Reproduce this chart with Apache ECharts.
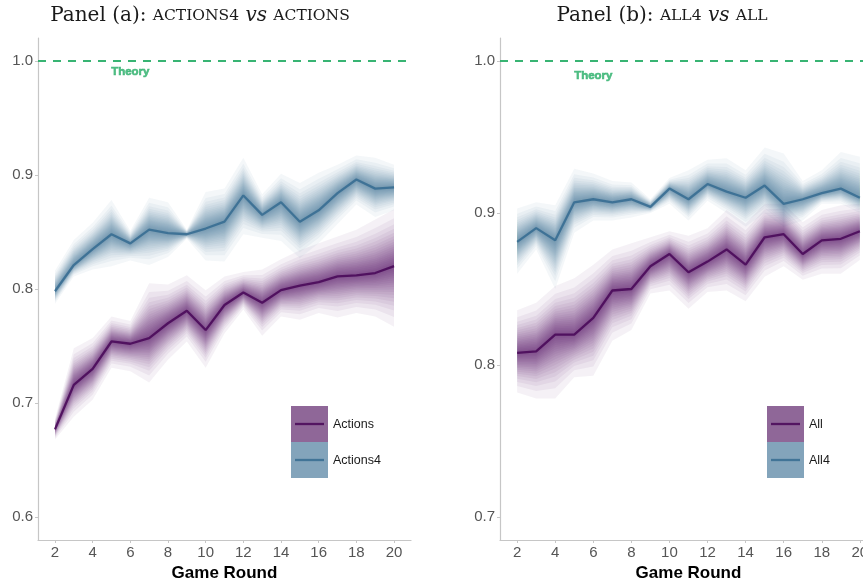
<!DOCTYPE html>
<html>
<head>
<meta charset="utf-8">
<script src="https://cdn.jsdelivr.net/npm/echarts@6/dist/echarts.min.js"></script>
<style>
  html, body { margin: 0; padding: 0; background: #ffffff; }
  #chart { width: 863px; height: 583px; }
</style>
</head>
<body>
<div id="chart"></div>
<script>
// Game rounds on the x axis
const rounds = [2, 3, 4, 5, 6, 7, 8, 9, 10, 11, 12, 13, 14, 15, 16, 17, 18, 19, 20];

// Panel (a): Actions (mean with outer fan bounds)
const actionsMean = [0.677, 0.716, 0.730, 0.754, 0.752, 0.757, 0.770, 0.781, 0.764, 0.786, 0.797, 0.788, 0.799, 0.803, 0.806, 0.811, 0.812, 0.814, 0.820];
const actionsLow  = [0.668, 0.688, 0.703, 0.731, 0.728, 0.718, 0.738, 0.754, 0.731, 0.761, 0.782, 0.759, 0.776, 0.773, 0.779, 0.775, 0.779, 0.776, 0.767];
const actionsHigh = [0.686, 0.748, 0.757, 0.776, 0.772, 0.805, 0.804, 0.812, 0.799, 0.811, 0.815, 0.817, 0.826, 0.834, 0.840, 0.846, 0.852, 0.861, 0.870];

// Panel (a): Actions4
const actions4Mean = [0.798, 0.821, 0.835, 0.848, 0.840, 0.852, 0.849, 0.848, 0.853, 0.859, 0.882, 0.865, 0.876, 0.859, 0.869, 0.884, 0.896, 0.888, 0.889];
const actions4Low  = [0.787, 0.811, 0.817, 0.820, 0.825, 0.821, 0.828, 0.844, 0.825, 0.824, 0.848, 0.845, 0.842, 0.827, 0.840, 0.857, 0.874, 0.863, 0.869];
const actions4High = [0.816, 0.843, 0.858, 0.878, 0.851, 0.880, 0.876, 0.852, 0.885, 0.888, 0.915, 0.883, 0.901, 0.893, 0.902, 0.909, 0.917, 0.915, 0.909];

// Panel (b): All
const allMean = [0.808, 0.809, 0.820, 0.820, 0.831, 0.849, 0.850, 0.865, 0.873, 0.861, 0.868, 0.876, 0.866, 0.884, 0.886, 0.873, 0.882, 0.883, 0.888];
const allLow  = [0.782, 0.778, 0.778, 0.792, 0.793, 0.816, 0.823, 0.847, 0.849, 0.837, 0.848, 0.849, 0.842, 0.858, 0.865, 0.856, 0.860, 0.860, 0.869];
const allHigh = [0.836, 0.841, 0.852, 0.857, 0.866, 0.876, 0.880, 0.884, 0.888, 0.885, 0.890, 0.902, 0.893, 0.906, 0.906, 0.894, 0.902, 0.905, 0.906];

// Panel (b): All4
const all4Mean = [0.881, 0.890, 0.882, 0.907, 0.909, 0.907, 0.909, 0.904, 0.916, 0.909, 0.919, 0.914, 0.910, 0.918, 0.906, 0.909, 0.913, 0.916, 0.910];
const all4Low  = [0.860, 0.876, 0.850, 0.887, 0.895, 0.895, 0.897, 0.900, 0.906, 0.895, 0.908, 0.900, 0.891, 0.900, 0.891, 0.895, 0.906, 0.906, 0.900];
const all4High = [0.903, 0.907, 0.905, 0.929, 0.926, 0.921, 0.920, 0.909, 0.923, 0.928, 0.935, 0.936, 0.928, 0.943, 0.939, 0.921, 0.928, 0.940, 0.937];

// Tick labels
const xTicks = [2, 4, 6, 8, 10, 12, 14, 16, 18, 20];
const yTicksA = [0.6, 0.7, 0.8, 0.9, 1.0];
const yTicksB = [0.7, 0.8, 0.9, 1.0];

// Reference value and its label
const theoryValue = 1.0;
const theoryLabel = { x: 6, y: 0.99, text: 'Theory' };

// Colours and fan styling
const PURPLE = '#440154';
const BLUE = '#31688e';
const GREEN = '#2db06c';
const AXIS_GREY = '#c6c6c6';
const LABEL_GREY = '#555555';
const SANS = '"Liberation Sans", Arial, sans-serif';
const SERIF = '"DejaVu Serif", "Liberation Serif", serif';
// Relative widths of the nested fan layers (inner to outer), normal-quantile spacing
const FAN_STEPS = [0.032, 0.064, 0.096, 0.129, 0.163, 0.197, 0.232, 0.268, 0.305, 0.344,
                   0.385, 0.429, 0.477, 0.529, 0.587, 0.654, 0.734, 0.839, 1.0];
const FAN_ALPHA = 0.055;

function rgba(hex, a) {
  const n = parseInt(hex.slice(1), 16);
  return 'rgba(' + ((n >> 16) & 255) + ',' + ((n >> 8) & 255) + ',' + (n & 255) + ',' + a + ')';
}

// Nested translucent bands around the mean line
function fanSeries(idx, mean, low, high, color) {
  return {
    type: 'custom',
    xAxisIndex: idx,
    yAxisIndex: idx,
    silent: true,
    clip: true,
    z: 1,
    data: [[rounds[0], mean[0]]],
    renderItem: function (params, api) {
      const children = FAN_STEPS.map(function (f) {
        const upper = rounds.map(function (r, i) { return api.coord([r, mean[i] + f * (high[i] - mean[i])]); });
        const lower = rounds.map(function (r, i) { return api.coord([r, mean[i] - f * (mean[i] - low[i])]); }).reverse();
        return {
          type: 'polygon',
          shape: { points: upper.concat(lower) },
          style: { fill: rgba(color, FAN_ALPHA) }
        };
      });
      return { type: 'group', children: children };
    }
  };
}

function meanLine(idx, name, mean, color) {
  return {
    type: 'line',
    name: name,
    xAxisIndex: idx,
    yAxisIndex: idx,
    data: rounds.map(function (r, i) { return [r, mean[i]]; }),
    symbol: 'none',
    z: 3,
    lineStyle: { color: color, width: 2.3, opacity: 0.8 }
  };
}

function theorySeries(idx) {
  return {
    type: 'scatter',
    xAxisIndex: idx,
    yAxisIndex: idx,
    data: [[theoryLabel.x, theoryLabel.y]],
    symbolSize: 0,
    silent: true,
    z: 4,
    label: {
      show: true,
      position: 'inside',
      formatter: theoryLabel.text,
      color: GREEN,
      fontFamily: SANS,
      fontWeight: 'bold',
      fontSize: 11.5,
      textBorderColor: GREEN,
      textBorderWidth: 0.6
    },
    markLine: {
      silent: true,
      symbol: 'none',
      label: { show: false },
      lineStyle: { color: GREEN, width: 1.8, type: [8, 7], opacity: 0.95 },
      data: [{ yAxis: theoryValue }]
    }
  };
}

function xAxisFor(idx) {
  return {
    type: 'value',
    gridIndex: idx,
    min: 1.1,
    max: 20.9,
    axisLine: { show: true, lineStyle: { color: AXIS_GREY, width: 1.2 } },
    axisTick: { show: true, customValues: xTicks, length: 3, lineStyle: { color: AXIS_GREY } },
    axisLabel: { customValues: xTicks, color: LABEL_GREY, fontSize: 15, fontFamily: SANS, margin: 5 },
    splitLine: { show: false },
    name: 'Game Round',
    nameLocation: 'middle',
    nameGap: 24,
    nameTextStyle: { color: '#000', fontWeight: 'bold', fontSize: 17, fontFamily: SANS, verticalAlign: 'top' }
  };
}

function yAxisFor(idx, min, max, ticks) {
  return {
    type: 'value',
    gridIndex: idx,
    min: min,
    max: max,
    axisLine: { show: true, lineStyle: { color: AXIS_GREY, width: 1.2 } },
    axisTick: { show: true, customValues: ticks, length: 3, lineStyle: { color: AXIS_GREY } },
    axisLabel: {
      customValues: ticks, color: LABEL_GREY, fontSize: 15, fontFamily: SANS, margin: 5,
      formatter: function (v) { return v.toFixed(1); }
    },
    splitLine: { show: false }
  };
}

function legendBlock(x, y, items) {
  const out = [];
  items.forEach(function (it, k) {
    const top = y + k * 36;
    out.push({ type: 'rect', shape: { x: x, y: top, width: 37, height: 36 }, style: { fill: rgba(it.color, 0.6) }, silent: true });
    out.push({ type: 'line', shape: { x1: x + 4, y1: top + 18, x2: x + 33, y2: top + 18 }, style: { stroke: it.color, lineWidth: 2.3, opacity: 0.8 }, silent: true });
    out.push({ type: 'text', x: x + 42, y: top + 19, style: { text: it.label, fill: '#1a1a1a', font: '12.5px ' + SANS, verticalAlign: 'middle', align: 'left' }, silent: true });
  });
  return out;
}

function panelTitle(cx, tag, a, b) {
  return {
    type: 'text',
    x: cx,
    y: 6,
    silent: true,
    style: {
      text: '{m|Panel (' + tag + '): }{s|' + a + '}{m| }{i|vs}{m| }{s|' + b + '}',
      align: 'center',
      verticalAlign: 'top',
      rich: {
        m: { fontFamily: SERIF, fontSize: 20, fill: '#1a1a1a' },
        s: { fontFamily: SERIF, fontSize: 15.5, fill: '#1a1a1a' },
        i: { fontFamily: SERIF, fontSize: 20, fontStyle: 'italic', fill: '#1a1a1a' }
      }
    }
  };
}

const chart = echarts.init(document.getElementById('chart'), null, { renderer: 'canvas' });

chart.setOption({
  animation: false,
  backgroundColor: '#ffffff',
  grid: [
    { left: 38, top: 38, width: 373, height: 502, outerBoundsMode: 'none', containLabel: false },
    { left: 500, top: 38, width: 377, height: 502, outerBoundsMode: 'none', containLabel: false }
  ],
  xAxis: [xAxisFor(0), xAxisFor(1)],
  yAxis: [yAxisFor(0, 0.58, 1.02, yTicksA), yAxisFor(1, 0.685, 1.015, yTicksB)],
  series: [
    fanSeries(0, actionsMean, actionsLow, actionsHigh, PURPLE),
    fanSeries(0, actions4Mean, actions4Low, actions4High, BLUE),
    meanLine(0, 'Actions', actionsMean, PURPLE),
    meanLine(0, 'Actions4', actions4Mean, BLUE),
    theorySeries(0),
    fanSeries(1, allMean, allLow, allHigh, PURPLE),
    fanSeries(1, all4Mean, all4Low, all4High, BLUE),
    meanLine(1, 'All', allMean, PURPLE),
    meanLine(1, 'All4', all4Mean, BLUE),
    theorySeries(1)
  ],
  graphic: [
    panelTitle(200, 'a', 'ACTIONS4', 'ACTIONS'),
    panelTitle(662, 'b', 'ALL4', 'ALL')
  ].concat(
    legendBlock(291, 406, [{ label: 'Actions', color: PURPLE }, { label: 'Actions4', color: BLUE }]),
    legendBlock(767, 406, [{ label: 'All', color: PURPLE }, { label: 'All4', color: BLUE }])
  )
});
</script>
</body>
</html>
